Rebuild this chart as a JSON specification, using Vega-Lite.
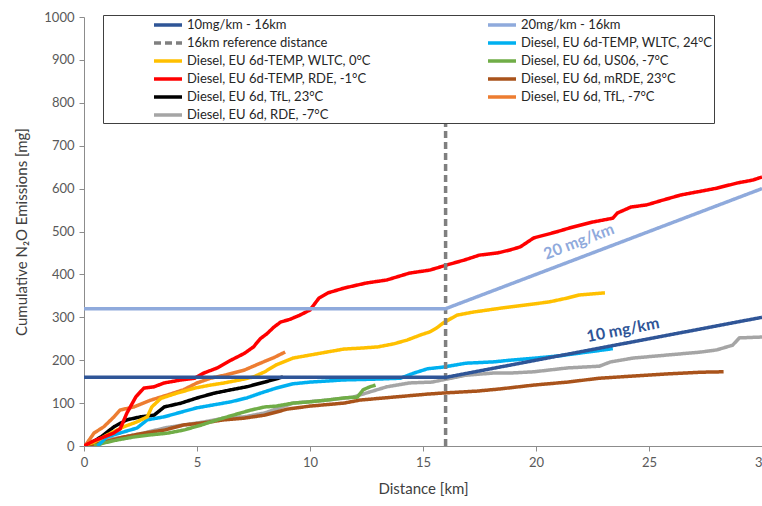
{
  "$schema": "https://vega.github.io/schema/vega-lite/v6.json",
  "width": 678,
  "height": 429,
  "autosize": {"type": "none"},
  "padding": {"left": 84, "top": 17, "right": 0, "bottom": 60},
  "background": "white",
  "config": {
    "view": {"stroke": null},
    "font": "Lato",
    "axis": {
      "grid": false,
      "domainColor": "#8C8C8C",
      "tickColor": "#8C8C8C",
      "tickSize": 5,
      "labelColor": "#595959",
      "labelFont": "Lato",
      "labelFontSize": 13,
      "labelPadding": 5,
      "labelFlush": false,
      "labelOverlap": false,
      "titleColor": "#404040",
      "titleFont": "Lato",
      "titleFontSize": 15,
      "titleFontWeight": "normal"
    },
    "legend": {
      "columns": 2,
      "direction": "horizontal",
      "strokeColor": "#404040",
      "fillColor": "white",
      "padding": 1,
      "rowPadding": 2,
      "columnPadding": 110,
      "labelFont": "Lato",
      "labelFontSize": 13,
      "labelColor": "#262626",
      "labelLimit": 0,
      "labelOffset": 10,
      "symbolType": "M-2,0H2",
      "symbolSize": 196,
      "symbolOffset": 7,
      "titleOrient": "left",
      "titlePadding": 48,
      "titleFontSize": 13
    }
  },
  "datasets": {
    "names": [
      {"k": "A", "series": "10mg/km - 16km"},
      {"k": "B", "series": "20mg/km - 16km"},
      {"k": "C", "series": "16km reference distance"},
      {"k": "D", "series": "Diesel, EU 6d-TEMP, WLTC, 24°C"},
      {"k": "E", "series": "Diesel, EU 6d-TEMP, WLTC, 0°C"},
      {"k": "F", "series": "Diesel, EU 6d, US06, -7°C"},
      {"k": "G", "series": "Diesel, EU 6d-TEMP, RDE, -1°C"},
      {"k": "H", "series": "Diesel, EU 6d, mRDE, 23°C"},
      {"k": "I", "series": "Diesel, EU 6d, TfL, 23°C"},
      {"k": "J", "series": "Diesel, EU 6d, TfL, -7°C"},
      {"k": "K", "series": "Diesel, EU 6d, RDE, -7°C"}
    ],
    "pts": [
      {"k": "K", "x": 0, "y": 0}, {"k": "K", "x": 0.13, "y": 0}, {"k": "K", "x": 0.88, "y": 14}, {"k": "K", "x": 1.77, "y": 21}, {"k": "K", "x": 2.65, "y": 30}, {"k": "K", "x": 3.55, "y": 42}, {"k": "K", "x": 4.4, "y": 49}, {"k": "K", "x": 5.3, "y": 56}, {"k": "K", "x": 6.2, "y": 65}, {"k": "K", "x": 7.1, "y": 68}, {"k": "K", "x": 8.0, "y": 77}, {"k": "K", "x": 9.25, "y": 100}, {"k": "K", "x": 10.75, "y": 107}, {"k": "K", "x": 11.9, "y": 114}, {"k": "K", "x": 12.65, "y": 126}, {"k": "K", "x": 13.4, "y": 138}, {"k": "K", "x": 14.4, "y": 147}, {"k": "K", "x": 15.4, "y": 149}, {"k": "K", "x": 16.05, "y": 156}, {"k": "K", "x": 16.9, "y": 165}, {"k": "K", "x": 18.1, "y": 170}, {"k": "K", "x": 18.85, "y": 170}, {"k": "K", "x": 19.9, "y": 173}, {"k": "K", "x": 21.4, "y": 182}, {"k": "K", "x": 22.8, "y": 186}, {"k": "K", "x": 23.3, "y": 196}, {"k": "K", "x": 24.3, "y": 205}, {"k": "K", "x": 25.8, "y": 212}, {"k": "K", "x": 27.3, "y": 219}, {"k": "K", "x": 28.0, "y": 224}, {"k": "K", "x": 28.7, "y": 235}, {"k": "K", "x": 29.0, "y": 252}, {"k": "K", "x": 30, "y": 254},
      {"k": "H", "x": 0, "y": 0}, {"k": "H", "x": 0.13, "y": 0}, {"k": "H", "x": 0.88, "y": 9}, {"k": "H", "x": 1.77, "y": 21}, {"k": "H", "x": 2.65, "y": 30}, {"k": "H", "x": 3.55, "y": 37}, {"k": "H", "x": 4.4, "y": 49}, {"k": "H", "x": 5.3, "y": 54}, {"k": "H", "x": 6.2, "y": 61}, {"k": "H", "x": 7.1, "y": 65}, {"k": "H", "x": 8.0, "y": 72}, {"k": "H", "x": 9.0, "y": 86}, {"k": "H", "x": 10, "y": 93}, {"k": "H", "x": 11.5, "y": 100}, {"k": "H", "x": 12.2, "y": 107}, {"k": "H", "x": 13.7, "y": 114}, {"k": "H", "x": 15.2, "y": 121}, {"k": "H", "x": 16.05, "y": 124}, {"k": "H", "x": 17.4, "y": 128}, {"k": "H", "x": 18.4, "y": 133}, {"k": "H", "x": 19.9, "y": 142}, {"k": "H", "x": 21.4, "y": 149}, {"k": "H", "x": 22.8, "y": 158}, {"k": "H", "x": 24.3, "y": 163}, {"k": "H", "x": 25.8, "y": 168}, {"k": "H", "x": 27.3, "y": 172}, {"k": "H", "x": 28.3, "y": 173},
      {"k": "F", "x": 0.44, "y": 0}, {"k": "F", "x": 0.88, "y": 7}, {"k": "F", "x": 1.46, "y": 14}, {"k": "F", "x": 2.2, "y": 21}, {"k": "F", "x": 2.96, "y": 26}, {"k": "F", "x": 3.7, "y": 30}, {"k": "F", "x": 4.4, "y": 37}, {"k": "F", "x": 5.2, "y": 49}, {"k": "F", "x": 5.9, "y": 61}, {"k": "F", "x": 6.6, "y": 72}, {"k": "F", "x": 7.4, "y": 84}, {"k": "F", "x": 8.0, "y": 91}, {"k": "F", "x": 8.5, "y": 93}, {"k": "F", "x": 9.25, "y": 100}, {"k": "F", "x": 10, "y": 103}, {"k": "F", "x": 10.75, "y": 107}, {"k": "F", "x": 11.5, "y": 112}, {"k": "F", "x": 12.1, "y": 114}, {"k": "F", "x": 12.35, "y": 131}, {"k": "F", "x": 12.65, "y": 138}, {"k": "F", "x": 12.9, "y": 142},
      {"k": "D", "x": 0.6, "y": 0}, {"k": "D", "x": 1.0, "y": 21}, {"k": "D", "x": 1.77, "y": 33}, {"k": "D", "x": 2.35, "y": 42}, {"k": "D", "x": 2.8, "y": 61}, {"k": "D", "x": 3.55, "y": 68}, {"k": "D", "x": 4.3, "y": 79}, {"k": "D", "x": 5.0, "y": 89}, {"k": "D", "x": 5.75, "y": 96}, {"k": "D", "x": 6.5, "y": 103}, {"k": "D", "x": 7.2, "y": 112}, {"k": "D", "x": 7.8, "y": 123}, {"k": "D", "x": 8.5, "y": 135}, {"k": "D", "x": 9.25, "y": 145}, {"k": "D", "x": 10, "y": 149}, {"k": "D", "x": 11.5, "y": 154}, {"k": "D", "x": 13, "y": 156}, {"k": "D", "x": 14, "y": 158}, {"k": "D", "x": 14.6, "y": 170}, {"k": "D", "x": 15.2, "y": 180}, {"k": "D", "x": 15.9, "y": 184}, {"k": "D", "x": 16.9, "y": 193}, {"k": "D", "x": 18.1, "y": 196}, {"k": "D", "x": 18.85, "y": 200}, {"k": "D", "x": 20, "y": 205}, {"k": "D", "x": 21, "y": 210}, {"k": "D", "x": 22, "y": 217}, {"k": "D", "x": 23, "y": 224}, {"k": "D", "x": 23.4, "y": 227},
      {"k": "I", "x": 0, "y": 0}, {"k": "I", "x": 0.13, "y": 2}, {"k": "I", "x": 0.75, "y": 21}, {"k": "I", "x": 1.33, "y": 45}, {"k": "I", "x": 1.9, "y": 61}, {"k": "I", "x": 2.5, "y": 68}, {"k": "I", "x": 3.1, "y": 72}, {"k": "I", "x": 3.55, "y": 91}, {"k": "I", "x": 4.3, "y": 100}, {"k": "I", "x": 5.0, "y": 112}, {"k": "I", "x": 5.75, "y": 123}, {"k": "I", "x": 6.5, "y": 131}, {"k": "I", "x": 7.2, "y": 138}, {"k": "I", "x": 8.0, "y": 149}, {"k": "I", "x": 8.8, "y": 161},
      {"k": "J", "x": 0, "y": 0}, {"k": "J", "x": 0.07, "y": 2}, {"k": "J", "x": 0.44, "y": 30}, {"k": "J", "x": 0.88, "y": 45}, {"k": "J", "x": 1.33, "y": 68}, {"k": "J", "x": 1.6, "y": 84}, {"k": "J", "x": 2.2, "y": 91}, {"k": "J", "x": 2.96, "y": 107}, {"k": "J", "x": 3.7, "y": 119}, {"k": "J", "x": 4.4, "y": 131}, {"k": "J", "x": 5.0, "y": 147}, {"k": "J", "x": 5.6, "y": 158}, {"k": "J", "x": 6.3, "y": 166}, {"k": "J", "x": 7.1, "y": 177}, {"k": "J", "x": 7.8, "y": 193}, {"k": "J", "x": 8.4, "y": 206}, {"k": "J", "x": 8.9, "y": 219},
      {"k": "E", "x": 0, "y": 0}, {"k": "E", "x": 0.44, "y": 9}, {"k": "E", "x": 1.18, "y": 30}, {"k": "E", "x": 1.77, "y": 45}, {"k": "E", "x": 2.33, "y": 56}, {"k": "E", "x": 2.8, "y": 68}, {"k": "E", "x": 3.0, "y": 91}, {"k": "E", "x": 3.4, "y": 111}, {"k": "E", "x": 4.1, "y": 123}, {"k": "E", "x": 4.9, "y": 135}, {"k": "E", "x": 5.6, "y": 142}, {"k": "E", "x": 6.2, "y": 147}, {"k": "E", "x": 6.9, "y": 154}, {"k": "E", "x": 7.5, "y": 161}, {"k": "E", "x": 8.0, "y": 173}, {"k": "E", "x": 8.5, "y": 189}, {"k": "E", "x": 9.25, "y": 205}, {"k": "E", "x": 10, "y": 212}, {"k": "E", "x": 10.75, "y": 219}, {"k": "E", "x": 11.5, "y": 226}, {"k": "E", "x": 12.2, "y": 228}, {"k": "E", "x": 13, "y": 231}, {"k": "E", "x": 13.7, "y": 238}, {"k": "E", "x": 14.3, "y": 247}, {"k": "E", "x": 14.9, "y": 259}, {"k": "E", "x": 15.3, "y": 266}, {"k": "E", "x": 15.6, "y": 275}, {"k": "E", "x": 15.9, "y": 287}, {"k": "E", "x": 16.5, "y": 305}, {"k": "E", "x": 17.2, "y": 312}, {"k": "E", "x": 18.4, "y": 321}, {"k": "E", "x": 19.6, "y": 329}, {"k": "E", "x": 20.6, "y": 336}, {"k": "E", "x": 21.4, "y": 345}, {"k": "E", "x": 21.9, "y": 352}, {"k": "E", "x": 23.05, "y": 357},
      {"k": "G", "x": 0, "y": 0}, {"k": "G", "x": 0.07, "y": 2}, {"k": "G", "x": 0.44, "y": 12}, {"k": "G", "x": 0.88, "y": 21}, {"k": "G", "x": 1.3, "y": 30}, {"k": "G", "x": 1.6, "y": 40}, {"k": "G", "x": 1.9, "y": 77}, {"k": "G", "x": 2.3, "y": 115}, {"k": "G", "x": 2.65, "y": 135}, {"k": "G", "x": 3.1, "y": 138}, {"k": "G", "x": 3.55, "y": 147}, {"k": "G", "x": 4.3, "y": 154}, {"k": "G", "x": 4.9, "y": 158}, {"k": "G", "x": 5.3, "y": 170}, {"k": "G", "x": 5.9, "y": 182}, {"k": "G", "x": 6.5, "y": 200}, {"k": "G", "x": 7.1, "y": 216}, {"k": "G", "x": 7.5, "y": 231}, {"k": "G", "x": 7.8, "y": 250}, {"k": "G", "x": 8.1, "y": 262}, {"k": "G", "x": 8.4, "y": 277}, {"k": "G", "x": 8.7, "y": 289}, {"k": "G", "x": 9.1, "y": 295}, {"k": "G", "x": 9.55, "y": 305}, {"k": "G", "x": 10, "y": 317}, {"k": "G", "x": 10.4, "y": 345}, {"k": "G", "x": 10.8, "y": 357}, {"k": "G", "x": 11.5, "y": 368}, {"k": "G", "x": 12.5, "y": 380}, {"k": "G", "x": 13.4, "y": 387}, {"k": "G", "x": 14.4, "y": 403}, {"k": "G", "x": 15.3, "y": 410}, {"k": "G", "x": 16.05, "y": 422}, {"k": "G", "x": 16.8, "y": 433}, {"k": "G", "x": 17.5, "y": 445}, {"k": "G", "x": 18.3, "y": 450}, {"k": "G", "x": 18.85, "y": 457}, {"k": "G", "x": 19.3, "y": 464}, {"k": "G", "x": 19.9, "y": 485}, {"k": "G", "x": 20.9, "y": 499}, {"k": "G", "x": 21.6, "y": 510}, {"k": "G", "x": 22.5, "y": 522}, {"k": "G", "x": 23.4, "y": 531}, {"k": "G", "x": 23.6, "y": 543}, {"k": "G", "x": 24.2, "y": 557}, {"k": "G", "x": 24.9, "y": 562}, {"k": "G", "x": 25.6, "y": 573}, {"k": "G", "x": 26.4, "y": 585}, {"k": "G", "x": 27.1, "y": 592}, {"k": "G", "x": 28.0, "y": 601}, {"k": "G", "x": 28.9, "y": 613}, {"k": "G", "x": 29.6, "y": 620}, {"k": "G", "x": 30, "y": 627},
      {"k": "C", "x": 16, "y": 0}, {"k": "C", "x": 16, "y": 1000},
      {"k": "A", "x": 0, "y": 160}, {"k": "A", "x": 16, "y": 160}, {"k": "A", "x": 30, "y": 300},
      {"k": "B", "x": 0, "y": 320}, {"k": "B", "x": 16, "y": 320}, {"k": "B", "x": 30, "y": 600}
    ]
  },
  "encoding": {
    "x": {
      "field": "x", "type": "quantitative", "title": "Distance [km]",
      "scale": {"domain": [0, 30], "nice": false},
      "axis": {"values": [0, 5, 10, 15, 20, 25, 30], "titlePadding": 12}
    },
    "y": {
      "field": "y", "type": "quantitative", "title": "Cumulative N₂O Emissions [mg]",
      "scale": {"domain": [0, 1000], "nice": false},
      "axis": {"values": [0, 100, 200, 300, 400, 500, 600, 700, 800, 900, 1000], "format": "d", "titlePadding": 14}
    }
  },
  "layer": [
    {
      "data": {"name": "pts"},
      "transform": [
        {"lookup": "k", "from": {"data": {"name": "names"}, "key": "k", "fields": ["series"]}}
      ],
      "mark": {"type": "line", "clip": true},
      "encoding": {
        "color": {
          "field": "series", "type": "nominal", "title": " ",
          "scale": {
            "domain": ["10mg/km - 16km", "20mg/km - 16km", "16km reference distance", "Diesel, EU 6d-TEMP, WLTC, 24°C", "Diesel, EU 6d-TEMP, WLTC, 0°C", "Diesel, EU 6d, US06, -7°C", "Diesel, EU 6d-TEMP, RDE, -1°C", "Diesel, EU 6d, mRDE, 23°C", "Diesel, EU 6d, TfL, 23°C", "Diesel, EU 6d, TfL, -7°C", "Diesel, EU 6d, RDE, -7°C"],
            "range": ["#2F5597", "#8FAADC", "#7F7F7F", "#00B0F0", "#FFC000", "#70AD47", "#FF0000", "#A9531B", "#000000", "#ED7D31", "#A5A5A5"]
          },
          "legend": {
            "orient": "none", "legendX": 19, "legendY": -2,
            "labelExpr": "datum.label + '\u00a0\u00a0\u00a0\u00a0\u00a0\u00a0\u00a0\u00a0\u00a0\u00a0\u00a0\u00a0\u00a0\u00a0\u00a0\u00a0\u00a0\u00a0\u00a0\u00a0\u00a0\u00a0\u00a0\u00a0\u00a0\u00a0\u00a0\u00a0\u00a0\u00a0'"
          }
        },
        "strokeDash": {
          "field": "series", "type": "nominal", "title": " ",
          "scale": {
            "domain": ["10mg/km - 16km", "20mg/km - 16km", "16km reference distance", "Diesel, EU 6d-TEMP, WLTC, 24°C", "Diesel, EU 6d-TEMP, WLTC, 0°C", "Diesel, EU 6d, US06, -7°C", "Diesel, EU 6d-TEMP, RDE, -1°C", "Diesel, EU 6d, mRDE, 23°C", "Diesel, EU 6d, TfL, 23°C", "Diesel, EU 6d, TfL, -7°C", "Diesel, EU 6d, RDE, -7°C"],
            "range": [[1, 0], [1, 0], [7, 4], [1, 0], [1, 0], [1, 0], [1, 0], [1, 0], [1, 0], [1, 0], [1, 0]]
          }
        },
        "strokeWidth": {
          "field": "series", "type": "nominal", "title": " ",
          "scale": {
            "domain": ["10mg/km - 16km", "20mg/km - 16km", "16km reference distance", "Diesel, EU 6d-TEMP, WLTC, 24°C", "Diesel, EU 6d-TEMP, WLTC, 0°C", "Diesel, EU 6d, US06, -7°C", "Diesel, EU 6d-TEMP, RDE, -1°C", "Diesel, EU 6d, mRDE, 23°C", "Diesel, EU 6d, TfL, 23°C", "Diesel, EU 6d, TfL, -7°C", "Diesel, EU 6d, RDE, -7°C"],
            "range": [3.5, 3.5, 2.5, 2.2, 2.2, 2.2, 2.2, 2.2, 2.2, 2.2, 2.2]
          }
        }
      }
    },
    {
      "data": {"values": [{"label": "20 mg/km", "x": 21.9, "y": 476}]},
      "mark": {"type": "text", "angle": -21, "color": "#8FAADC", "fontSize": 16, "fontWeight": "bold", "font": "Lato"},
      "encoding": {"text": {"field": "label"}}
    },
    {
      "data": {"values": [{"label": "10 mg/km", "x": 23.85, "y": 270}]},
      "mark": {"type": "text", "angle": -11, "color": "#2F5597", "fontSize": 16, "fontWeight": "bold", "font": "Lato"},
      "encoding": {"text": {"field": "label"}}
    }
  ]
}
